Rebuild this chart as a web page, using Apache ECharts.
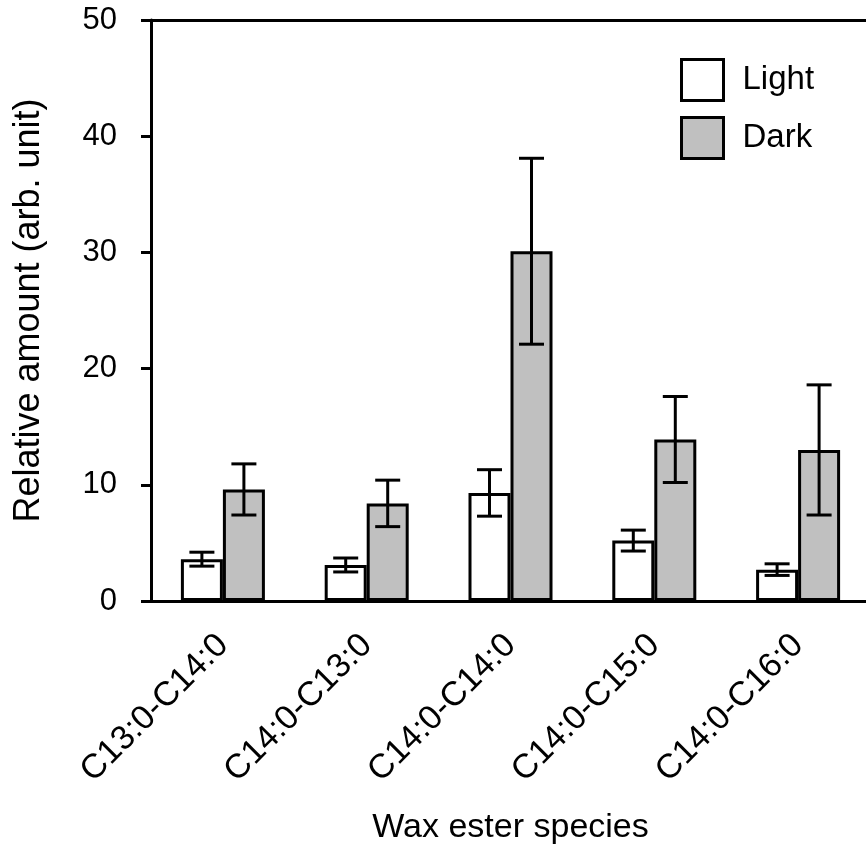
<!DOCTYPE html>
<html>
<head>
<meta charset="utf-8">
<script src="https://cdn.jsdelivr.net/npm/echarts@6/dist/echarts.min.js"></script>
<style>
html, body { margin: 0; padding: 0; background: #fff; }
#chart { width: 866px; height: 845px; }
</style>
</head>
<body>
<div id="chart"></div>
<script>
// data
var categories = ['C13:0-C14:0', 'C14:0-C13:0', 'C14:0-C14:0', 'C14:0-C15:0', 'C14:0-C16:0'];
var lightValues = [3.6, 3.1, 9.3, 5.2, 2.7];
var lightErrors = [0.6, 0.6, 2.0, 0.9, 0.5];
var darkValues = [9.6, 8.4, 30.1, 13.9, 13.0];
var darkErrors = [2.2, 2.0, 8.0, 3.7, 5.6];
var yTicks = [0, 10, 20, 30, 40, 50];

var font = 'Liberation Sans, Arial, sans-serif';
var barW = 42;

function errData(vals, errs) {
    return vals.map(function (v, i) { return [i, v, errs[i]]; });
}

// error bar: vertical line + two caps, shifted to the bar's centre
function errRender(side) {
    return function (params, api) {
        var i = api.value(0), v = api.value(1), e = api.value(2);
        var hi = api.coord([i, v + e]);
        var lo = api.coord([i, v - e]);
        var x = hi[0] + side * barW / 2;
        var cap = 12.5;
        var st = { stroke: '#000', lineWidth: 3 };
        return {
            type: 'group',
            children: [
                { type: 'line', shape: { x1: x, y1: hi[1], x2: x, y2: lo[1] }, style: st },
                { type: 'line', shape: { x1: x - cap, y1: hi[1], x2: x + cap, y2: hi[1] }, style: st },
                { type: 'line', shape: { x1: x - cap, y1: lo[1], x2: x + cap, y2: lo[1] }, style: st }
            ]
        };
    };
}

var chart = echarts.init(document.getElementById('chart'));
chart.setOption({
    animation: false,
    textStyle: { fontFamily: font, color: '#000' },
    grid: { left: 151, top: 20, width: 719, bottom: 244, outerBoundsMode: 'none', containLabel: false },
    legend: {
        data: ['Light', 'Dark'],
        orient: 'vertical',
        left: 680,
        top: 58,
        padding: 0,
        itemWidth: 42,
        itemHeight: 41,
        itemGap: 14,
        icon: 'rect',
        itemStyle: { borderColor: '#000', borderWidth: 3 },
        textStyle: { fontFamily: font, fontSize: 33, color: '#000', padding: [0, 0, 0, 14] }
    },
    xAxis: [{
        type: 'category',
        data: categories,
        name: 'Wax ester species',
        nameLocation: 'middle',
        nameGap: 210,
        nameTextStyle: { fontFamily: font, fontSize: 34, color: '#000' },
        axisLine: { lineStyle: { color: '#000', width: 3 } },
        axisTick: { length: 9, lineStyle: { color: '#000', width: 3 } },
        axisLabel: { rotate: 45, interval: 0, margin: 39, fontFamily: font, fontSize: 34, color: '#000' }
    }, {
        type: 'category',
        data: categories,
        position: 'top',
        axisLine: { lineStyle: { color: '#000', width: 3 } },
        axisTick: { show: false },
        axisLabel: { show: false }
    }],
    yAxis: {
        type: 'value',
        min: yTicks[0],
        max: yTicks[yTicks.length - 1],
        interval: 10,
        name: 'Relative amount (arb. unit)',
        nameLocation: 'middle',
        nameGap: 104,
        nameTextStyle: { fontFamily: font, fontSize: 36, color: '#000' },
        axisLine: { show: true, lineStyle: { color: '#000', width: 3 } },
        axisTick: { show: true, length: 10, lineStyle: { color: '#000', width: 3 } },
        axisLabel: { margin: 34, fontFamily: font, fontSize: 31, color: '#000' },
        splitLine: { show: false }
    },
    series: [{
        name: 'Light',
        type: 'bar',
        barWidth: barW,
        barGap: '0%',
        data: lightValues,
        itemStyle: { color: '#ffffff', borderColor: '#000', borderWidth: 3 }
    }, {
        name: 'Dark',
        type: 'bar',
        barWidth: barW,
        barGap: '0%',
        data: darkValues,
        itemStyle: { color: '#c0c0c0', borderColor: '#000', borderWidth: 3 }
    }, {
        name: 'LightErr',
        type: 'custom',
        renderItem: errRender(-1),
        data: errData(lightValues, lightErrors),
        encode: { x: 0, y: 1 },
        z: 5
    }, {
        name: 'DarkErr',
        type: 'custom',
        renderItem: errRender(1),
        data: errData(darkValues, darkErrors),
        encode: { x: 0, y: 1 },
        z: 5
    }]
});
</script>
</body>
</html>
